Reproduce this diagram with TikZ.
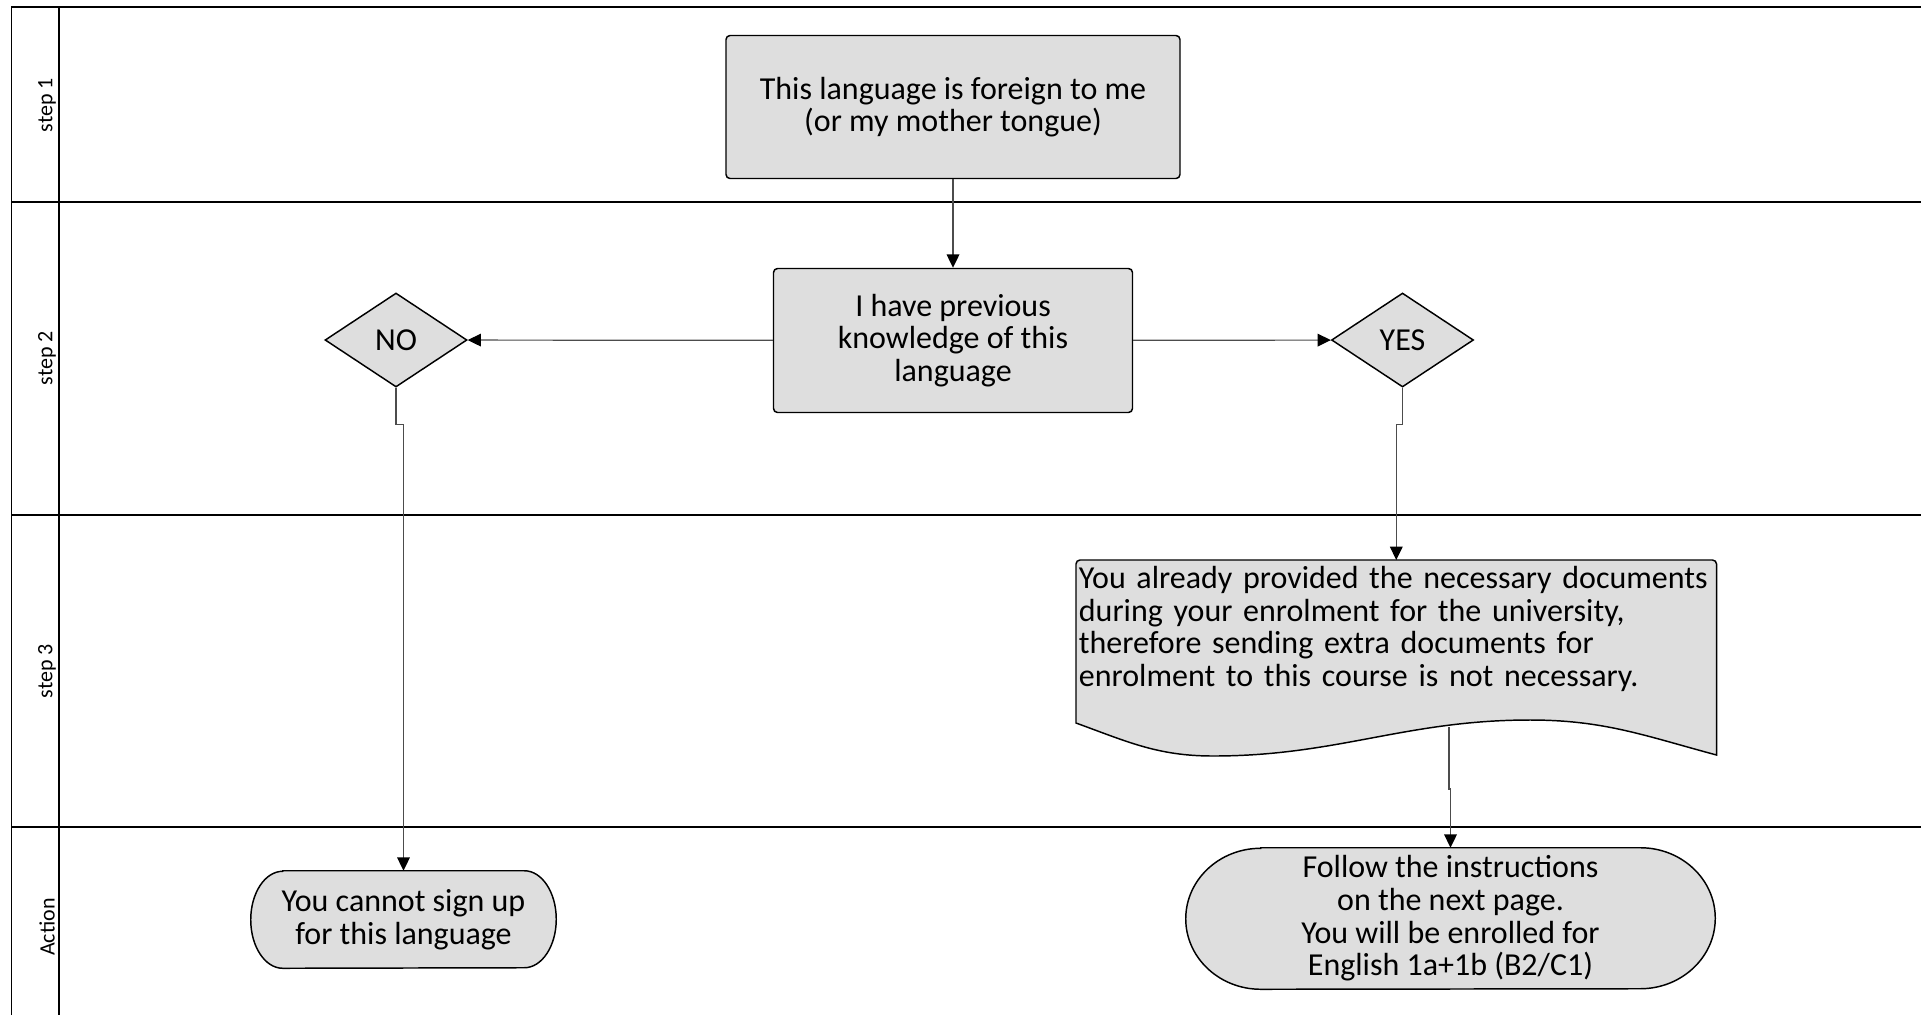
\documentclass[tikz,border=0pt]{standalone}
\usepackage{fontspec}
\setmainfont{Carlito}
\usepackage{tikz}
\usetikzlibrary{positioning,shapes,calc,arrows.meta,backgrounds}
\definecolor{shapefill}{RGB}{222,222,222}
% outline of a terminator node: node, x radius, y radius (px)
\newcommand{\termoutline}[3]{($(#1.north west)+(#2,0)$) -- ($(#1.north east)-(#2,0)$)
  arc[start angle=90, end angle=-90, x radius=#2*0.75pt, y radius=#3*0.75pt]
  -- ($(#1.south west)+(#2,0)$)
  arc[start angle=270, end angle=90, x radius=#2*0.75pt, y radius=#3*0.75pt] -- cycle}

\begin{document}
\begin{tikzpicture}[x=0.75pt, y=-0.75pt,
    lane/.style={line width=1.4pt},
    lanetext/.style={rotate=90, font=\fontsize{16.5}{18}\selectfont},
    txt/.style={font=\fontsize{24}{24.5}\selectfont, align=center},
    procbox/.style={txt, draw, line width=1.1pt, fill=shapefill, rounded corners=3pt, inner sep=2pt},
    decision/.style={txt, diamond, draw, line width=1.1pt, fill=shapefill, inner sep=0pt,
        minimum width=106.5pt, minimum height=70.5pt, aspect=1.5},
    endbox/.style={txt, inner sep=0pt},
    outline/.style={draw, line width=1.1pt, fill=shapefill},
    flow/.style={draw=black!70, line width=0.9pt, -{Triangle[length=10pt,width=9.5pt,color=black]}}]
    \useasboundingbox (0,0) rectangle (1921,1015);

    % lanes
    \draw[lane] (11.5,1015) -- (11.5,7) -- (1921,7);
    \draw[lane] (59,7) -- (59,1015);
    \foreach \y in {202,515,827}
        \draw[lane] (11.5,\y) -- (1921,\y);
    \node[lanetext] (s1) at (47,105) {step 1};
    \node[lanetext] (s2) at (47,358) {step 2};
    \node[lanetext] (s3) at (47,671) {step 3};
    \node[lanetext] (act) at (47,927) {Action};

    \node[procbox, minimum width=340.5pt, minimum height=107.25pt] (lang) at (953,107)
        {This language is foreign to me\\(or my mother tongue)};
    \node[procbox, minimum width=269.25pt, minimum height=108pt] (prev) at (953,340.5)
        {I have previous\\knowledge of this\\language};
    \node[decision] (no) at (396,340) {NO};
    \node[decision] (yes) at (1402.5,340) {YES};
    \node[txt, align=left, anchor=north west, text width=476pt, inner xsep=2pt, inner ysep=4.5pt] (docs) at (1076,560)
        {You already provided the necessary documents\\during your enrolment for the university,\\therefore sending extra documents for\\enrolment to this course is not necessary.};
    \node[endbox, minimum width=228.75pt, minimum height=72.75pt] (nocant) at (403.5,919.5)
        {You cannot sign up\\for this language};
    \node[endbox, minimum width=396.75pt, minimum height=105.75pt] (follow) at (1450.5,918.5)
        {Follow the instructions\\on the next page.\\You will be enrolled for\\English 1a+1b (B2/C1)};
    \coordinate (docout) at (1449,727);

    \begin{scope}[on background layer]
        \draw[outline] \termoutline{nocant}{32}{48.5};
        \draw[outline] \termoutline{follow}{75}{70.5};
        \draw[outline] ($(docs.north west)+(0,163)$) [rounded corners=3pt] -- (docs.north west) -- (docs.north east)
            [sharp corners] -- ($(docs.north east)+(0,195)$)
            to[out=165,in=0] ($(docs.north west)+(454,160)$)
            to[out=180,in=0] ($(docs.north west)+(137,196)$)
            to[out=180,in=-20] ($(docs.north west)+(0,163)$) -- cycle;
    \end{scope}

    \draw[flow] (lang) -- (prev);
    \draw[flow] (prev) -- (no);
    \draw[flow] (prev) -- (yes);
    \draw[flow] (no.south) -- ++(0,37) -| (nocant.north);
    \draw[flow] (yes.south) -- ++(0,37) -| (docs.north);
    \draw[flow] (docout) -- ++(0,62) -| (follow.north);
\end{tikzpicture}
\end{document}
